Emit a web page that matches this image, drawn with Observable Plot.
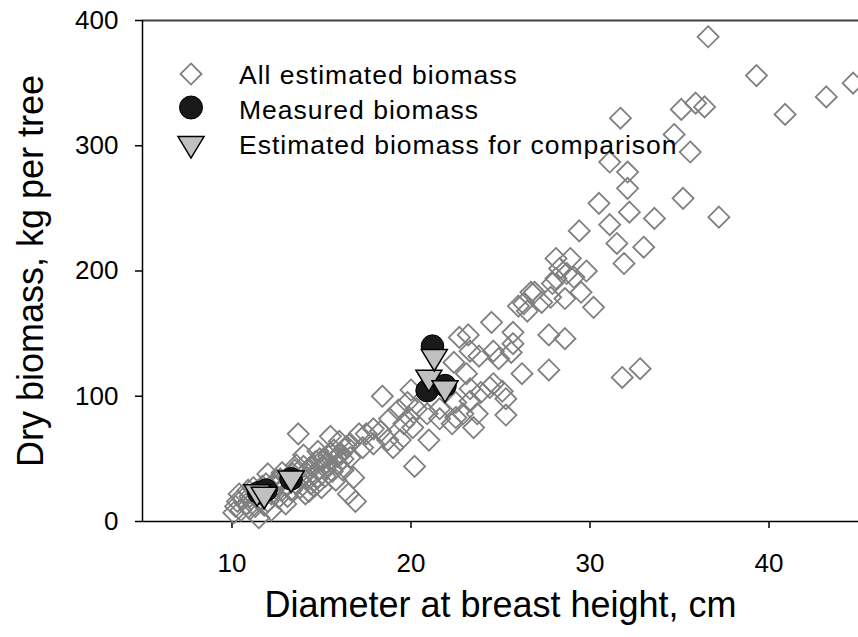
<!DOCTYPE html>
<html>
<head>
<meta charset="utf-8">
<script src="https://cdn.jsdelivr.net/npm/d3@7"></script>
<script src="https://cdn.jsdelivr.net/npm/@observablehq/plot@0.6"></script>
<style>
  html, body { margin: 0; padding: 0; background: #fff; }
  #chart { width: 858px; height: 637px; position: relative; }
</style>
</head>
<body>
<div id="chart"></div>
<script>
// ---- Data ----
const allDbh = [
  10.1,10.2,10.3,10.4,10.5,10.6,10.8,10.9,11.0,11.2,11.3,11.5,11.5,11.8,11.9,12.0,12.2,12.2,12.4,12.5,
  12.6,12.8,12.8,13.0,13.0,13.2,13.3,13.5,13.6,13.7,13.9,14.0,14.1,14.2,14.3,14.4,14.5,14.6,14.7,14.8,
  14.9,15.0,15.1,15.2,15.3,15.4,15.5,15.6,15.7,15.8,15.9,16.0,16.1,16.2,16.3,16.5,16.6,16.6,16.8,16.9,
  17.1,17.3,17.5,17.9,17.9,
  11.0,11.4,11.7,12.0,12.3,12.7,13.1,13.4,13.8,14.0,14.3,14.6,14.9,15.2,15.5,15.9,16.2,16.4,13.6,14.8,
  18.3,18.4,18.7,18.8,19.0,19.3,19.4,19.6,19.8,19.9,20.0,20.1,20.2,20.3,20.9,21.0,21.6,21.6,22.3,22.4,
  22.5,22.5,22.7,22.9,23.1,23.2,23.3,23.3,23.3,23.5,23.7,23.8,23.9,24.4,24.5,24.6,24.6,24.9,25.1,25.3,25.3,
  25.6,25.7,25.7,26.0,26.2,26.3,26.5,26.7,26.9,27.3,27.7,27.7,27.8,27.9,28.1,28.1,28.3,28.6,28.6,28.7,
  28.9,29.1,29.4,29.5,29.8,30.2,30.5,31.1,31.1,31.5,31.7,31.8,31.9,32.1,32.1,32.2,32.8,33.0,33.6,34.7,
  35.1,35.2,35.6,35.9,36.4,36.6,37.2,39.3,40.9,43.2,44.7
];
const allBiomass = [
  7,12,16,22,9,18,14,25,20,27,12,3,17,13,30,38,9,22,28,33,
  19,39,25,14,29,36,25,41,30,70,36,53,22,35,42,30,45,38,48,35,
  42,27,50,43,47,52,68,40,57,33,46,64,54,50,58,22,51,62,35,16,
  70,59,70,74,62,
  10,22,28,16,30,34,20,38,27,44,24,28,50,36,55,52,41,60,45,56,
  72,100,65,82,59,89,65,78,95,83,105,75,44,90,86,65,90,82,78,127,
  95,83,147,86,118,149,136,96,106,75,86,132,103,107,159,136,110,130,104,85,98,
  135,142,151,172,118,174,168,183,183,175,121,149,179,190,194,210,202,178,146,198,
  210,195,232,183,200,171,254,287,237,222,322,115,206,279,266,247,122,219,242,309,
  329,258,295,334,331,387,243,356,325,339,350
];
const measuredDbh     = [11.5, 11.9, 13.3, 20.9, 21.2, 21.9];
const measuredBiomass = [23, 25, 34, 104.5, 140, 108.5];
const comparisonDbh     = [11.4, 11.8, 13.3, 21.0, 21.3, 21.9];
const comparisonBiomass = [21, 19, 32, 112.5, 129, 104];

const xTicks = [10, 20, 30, 40];
const yTicks = [0, 100, 200, 300, 400];
const legendLabels = ["All estimated biomass", "Measured biomass", "Estimated biomass for comparison"];
const xTitle = "Diameter at breast height, cm";
const yTitle = "Dry biomass, kg per tree";

// ---- Build tables ----
const allData = allDbh.map((d, i) => ({dbh: d, biomass: allBiomass[i]}));
const measured = measuredDbh.map((d, i) => ({dbh: d, biomass: measuredBiomass[i]}));
const comparison = comparisonDbh.map((d, i) => ({dbh: d, biomass: comparisonBiomass[i]}));

// Downward-pointing triangle symbol
const triangleDown = {
  draw(context, size) {
    const r = Math.sqrt(size / Math.PI);
    context.moveTo(-r, -0.8 * r);
    context.lineTo(r, -0.8 * r);
    context.lineTo(0, 0.85 * r);
    context.closePath();
  }
};

const FONT = "'Liberation Sans', Arial, Helvetica, sans-serif";

const chart = Plot.plot({
  width: 858,
  height: 637,
  marginLeft: 142,
  marginRight: 0,
  marginTop: 20,
  marginBottom: 116,
  style: {fontFamily: FONT, fontSize: "26px", color: "#000", background: "#fff", overflow: "visible"},
  x: {domain: [5, 45]},
  y: {domain: [0, 400]},
  marks: [
    Plot.ruleY([400], {stroke: "#404040", strokeWidth: 2}),
    Plot.axisX({ticks: xTicks, tickSize: 7, tickPadding: 25, label: null, strokeWidth: 1.5}),
    Plot.axisY({ticks: yTicks, tickSize: 7, tickPadding: 17, label: null, strokeWidth: 1.5}),
    Plot.ruleX([5], {stroke: "#000", strokeWidth: 1.5}),
    Plot.ruleY([0], {stroke: "#000", strokeWidth: 1.5}),
    Plot.dot(allData, {x: "dbh", y: "biomass", symbol: "diamond2", r: 9.5, stroke: "#808080", strokeWidth: 1.8, fill: "none"}),
    Plot.dot(measured, {x: "dbh", y: "biomass", symbol: "circle", r: 11.3, fill: "#1a1a1a", stroke: "#000", strokeWidth: 1}),
    Plot.dot(comparison, {x: "dbh", y: "biomass", symbol: triangleDown, r: 13, fill: "#c0c0c0", stroke: "#000", strokeWidth: 1.5}),
    Plot.text([xTitle], {text: d => d, frameAnchor: "bottom", textAnchor: "middle", dy: 95, fontSize: 36, fill: "#000"}),
    Plot.text([yTitle], {text: d => d, frameAnchor: "left", textAnchor: "middle", rotate: -90, dx: -111, fontSize: 36, fill: "#000"})
  ]
});

document.getElementById("chart").appendChild(chart);

// ---- Legend (inside plot area, top-left) ----
const svg = d3.select(chart);
const leg = svg.append("g").attr("transform", "translate(191,74)");
const rows = leg.selectAll("g").data(legendLabels).join("g")
  .attr("transform", (d, i) => `translate(0,${[0, 33.5, 73][i]})`);
rows.filter((d, i) => i === 0).append("path")
  .attr("d", d3.symbol(d3.symbolDiamond2, Math.PI * 9.5 * 9.5)())
  .attr("fill", "none").attr("stroke", "#808080").attr("stroke-width", 1.8);
rows.filter((d, i) => i === 1).append("circle")
  .attr("r", 11.5).attr("fill", "#1a1a1a").attr("stroke", "#000");
rows.filter((d, i) => i === 2).append("path")
  .attr("d", d3.symbol(triangleDown, Math.PI * 13 * 13)())
  .attr("fill", "#c0c0c0").attr("stroke", "#000").attr("stroke-width", 1.5);
rows.append("text")
  .attr("x", 48)
  .attr("y", (d, i) => [10, 11.5, 7][i])
  .attr("text-anchor", "start")
  .attr("font-family", FONT)
  .attr("font-size", 26.5)
  .attr("letter-spacing", 1)
  .attr("fill", "#000")
  .text(d => d);
</script>
</body>
</html>
